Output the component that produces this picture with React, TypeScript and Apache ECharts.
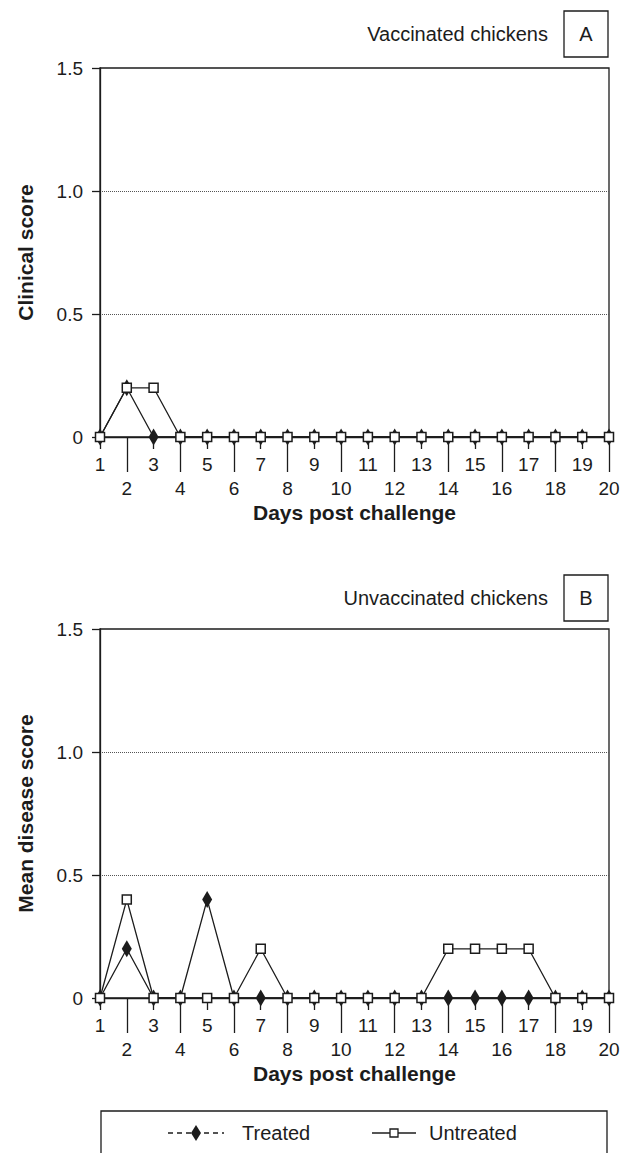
import React, { useEffect, useRef } from 'react';
import * as echarts from 'echarts';

// ---- data ----
const days = ['1', '2', '3', '4', '5', '6', '7', '8', '9', '10', '11', '12', '13', '14', '15', '16', '17', '18', '19', '20'];
const yTicks = [0, 0.5, 1.0, 1.5];

const vaccinatedTreated = [0, 0.2, 0, 0, 0, 0, 0, 0, 0, 0, 0, 0, 0, 0, 0, 0, 0, 0, 0, 0];
const vaccinatedUntreated = [0, 0.2, 0.2, 0, 0, 0, 0, 0, 0, 0, 0, 0, 0, 0, 0, 0, 0, 0, 0, 0];
const unvaccinatedTreated = [0, 0.2, 0, 0, 0.4, 0, 0, 0, 0, 0, 0, 0, 0, 0, 0, 0, 0, 0, 0, 0];
const unvaccinatedUntreated = [0, 0.4, 0, 0, 0, 0, 0.2, 0, 0, 0, 0, 0, 0, 0.2, 0.2, 0.2, 0.2, 0, 0, 0];

const panelTitles = ['Vaccinated chickens', 'Unvaccinated chickens'];
const panelLetters = ['A', 'B'];
const yTitles = ['Clinical score', 'Mean disease score'];
const xTitle = 'Days post challenge';
const seriesNames = ['Treated', 'Untreated'];

const FONT = '"Liberation Sans", Arial, Helvetica, sans-serif';
const INK = '#1c1c1c';
const TICK_FS = 19;
const TITLE_FS = 21;

function buildOption() {
  const gridTops = [68, 629];
  const gridHeight = 369;

  const grids = gridTops.map((top) => ({
    left: 100,
    right: 15,
    top,
    height: gridHeight,
    show: true,
    borderColor: INK,
    borderWidth: 1.3,
    backgroundColor: 'transparent',
  }));

  const xAxes: any[] = [];
  [0, 1].forEach((g) => {
    const base = {
      type: 'category',
      gridIndex: g,
      data: days,
      boundaryGap: false,
      position: 'bottom',
      silent: true,
    };
    xAxes.push({
      ...base,
      axisLine: { show: true, onZero: false, lineStyle: { color: INK, width: 1.3 } },
      axisTick: { show: true, interval: (i: number) => i % 2 === 1, length: 35, lineStyle: { color: INK, width: 1.3 } },
      axisLabel: { interval: (i: number) => i % 2 === 1, margin: 42, fontSize: TICK_FS, color: INK, fontFamily: FONT },
      splitLine: { show: false },
      name: xTitle,
      nameLocation: 'middle',
      nameGap: 65,
      nameTextStyle: { fontSize: TITLE_FS, fontWeight: 'bold', color: INK, fontFamily: FONT },
    });
    xAxes.push({
      ...base,
      axisLine: { show: false },
      axisTick: { show: true, interval: (i: number) => i % 2 === 0, length: 12, lineStyle: { color: INK, width: 1.3 } },
      axisLabel: { interval: (i: number) => i % 2 === 0, margin: 18, fontSize: TICK_FS, color: INK, fontFamily: FONT },
      splitLine: { show: false },
    });
  });

  const yAxes = [0, 1].map((g) => ({
    type: 'value',
    gridIndex: g,
    min: yTicks[0],
    max: yTicks[yTicks.length - 1],
    interval: 0.5,
    silent: true,
    axisLine: { show: true, lineStyle: { color: INK, width: 1.3 } },
    axisTick: { show: true, length: 8, lineStyle: { color: INK, width: 1.3 } },
    axisLabel: {
      margin: 17,
      fontSize: TICK_FS,
      color: INK,
      fontFamily: FONT,
      formatter: (v: number) => (v === 0 ? '0' : v.toFixed(1)),
    },
    splitLine: {
      show: true,
      showMinLine: false,
      showMaxLine: false,
      lineStyle: { type: 'dotted', color: '#555', width: 1 },
    },
    name: yTitles[g],
    nameLocation: 'middle',
    nameGap: 64,
    nameRotate: 90,
    nameTextStyle: { fontSize: TITLE_FS, fontWeight: 'bold', color: INK, fontFamily: FONT },
  }));

  const treatedStyle = {
    type: 'line',
    symbol: 'diamond',
    symbolSize: [10, 17],
    showAllSymbol: true,
    itemStyle: { color: INK },
    lineStyle: { color: INK, width: 1.3 },
    clip: false,
    silent: true,
    z: 3,
  };
  const untreatedStyle = {
    type: 'line',
    symbol: 'rect',
    symbolSize: 9,
    showAllSymbol: true,
    itemStyle: { color: '#ffffff', borderColor: INK, borderWidth: 1.5 },
    lineStyle: { color: INK, width: 1.3 },
    clip: false,
    silent: true,
    z: 4,
  };

  const series = [
    { ...treatedStyle, name: seriesNames[0], xAxisIndex: 0, yAxisIndex: 0, data: vaccinatedTreated },
    { ...untreatedStyle, name: seriesNames[1], xAxisIndex: 0, yAxisIndex: 0, data: vaccinatedUntreated },
    { ...treatedStyle, name: seriesNames[0], xAxisIndex: 2, yAxisIndex: 1, data: unvaccinatedTreated },
    { ...untreatedStyle, name: seriesNames[1], xAxisIndex: 2, yAxisIndex: 1, data: unvaccinatedUntreated },
  ];

  const textEl = (text: string, x: number, y: number, align: string) => ({
    type: 'text',
    x,
    y,
    style: { text, fontSize: 20, fontFamily: FONT, fill: INK, textAlign: align, textVerticalAlign: 'middle' },
  });

  const headerY = [34, 598];
  const graphic: any[] = [];
  [0, 1].forEach((g) => {
    graphic.push(textEl(panelTitles[g], 548, headerY[g], 'right'));
    graphic.push({
      type: 'rect',
      shape: { x: 564, y: headerY[g] - 23, width: 44, height: 46 },
      style: { fill: 'transparent', stroke: INK, lineWidth: 1.3 },
    });
    graphic.push(textEl(panelLetters[g], 586, headerY[g], 'center'));
  });

  // legend box
  const ly = 1133;
  graphic.push({
    type: 'rect',
    shape: { x: 101, y: 1111, width: 506, height: 80 },
    style: { fill: 'transparent', stroke: INK, lineWidth: 1.3 },
  });
  graphic.push({
    type: 'line',
    shape: { x1: 168, y1: ly, x2: 224, y2: ly },
    style: { stroke: INK, lineWidth: 1.3, lineDash: [5, 4] },
  });
  graphic.push({
    type: 'polygon',
    shape: { points: [[196, ly - 8], [201, ly], [196, ly + 8], [191, ly]] },
    style: { fill: INK },
  });
  graphic.push(textEl(seriesNames[0], 242, ly, 'left'));
  graphic.push({
    type: 'line',
    shape: { x1: 372, y1: ly, x2: 416, y2: ly },
    style: { stroke: INK, lineWidth: 1.3 },
  });
  graphic.push({
    type: 'rect',
    shape: { x: 390, y: ly - 4, width: 8, height: 8 },
    style: { fill: '#fff', stroke: INK, lineWidth: 1.3 },
  });
  graphic.push(textEl(seriesNames[1], 429, ly, 'left'));

  return {
    animation: false,
    backgroundColor: '#ffffff',
    textStyle: { fontFamily: FONT },
    grid: grids,
    xAxis: xAxes,
    yAxis: yAxes,
    series,
    graphic,
  };
}

export default function App() {
  const ref = useRef<HTMLDivElement>(null);
  useEffect(() => {
    document.body.style.margin = '0';
    if (!ref.current) return;
    const chart = echarts.init(ref.current, null, { renderer: 'svg' });
    chart.setOption(buildOption() as any);
    return () => chart.dispose();
  }, []);
  return <div ref={ref} style={{ width: 624, height: 1153 }} />;
}
